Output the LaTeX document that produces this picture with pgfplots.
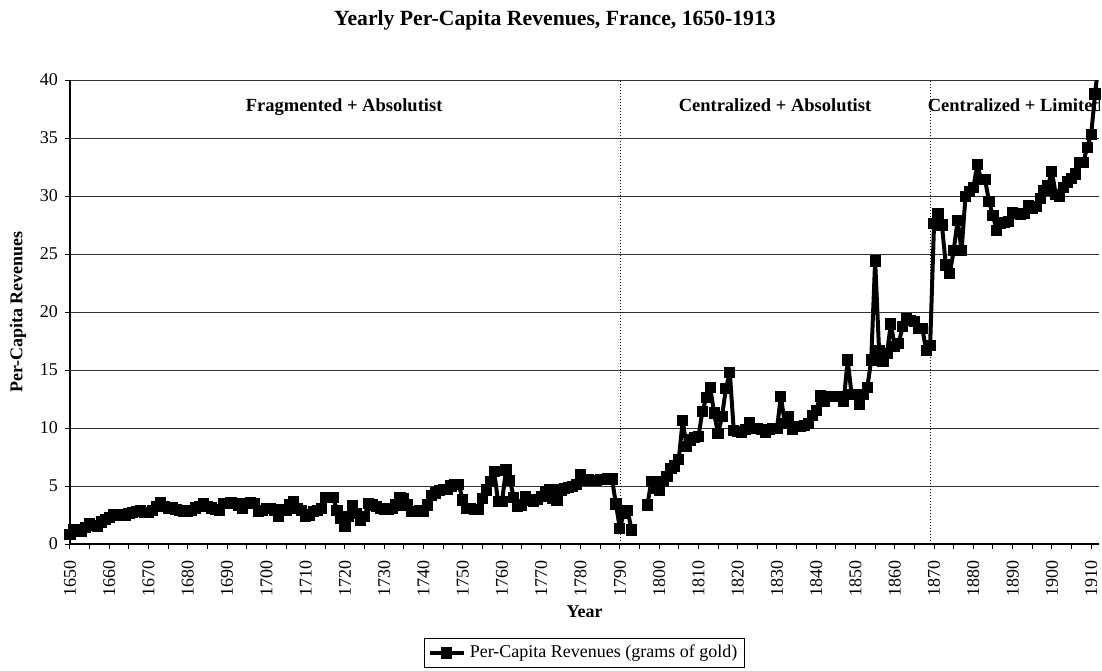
\documentclass[border=0pt]{standalone}
\usepackage{fontspec}
\setmainfont{Liberation Serif}
\usepackage{pgfplots}
\pgfplotsset{compat=1.18}
\usepackage{pgfplotstable}

\pgfplotstableread{
year val
1650 0.8
1651 1.2
1652 1.2
1653 1.1
1654 1.4
1655 1.8
1656 1.6
1657 1.5
1658 1.9
1659 2.1
1660 2.3
1661 2.5
1662 2.5
1663 2.5
1664 2.5
1665 2.6
1666 2.7
1667 2.8
1668 2.9
1669 2.7
1670 2.7
1671 2.9
1672 3.2
1673 3.6
1674 3.2
1675 3.1
1676 3.1
1677 3.0
1678 2.9
1679 2.8
1680 2.8
1681 2.9
1682 3.1
1683 3.2
1684 3.5
1685 3.2
1686 3.1
1687 3.0
1688 2.9
1689 3.5
1690 3.5
1691 3.6
1692 3.5
1693 3.35
1694 3.1
1695 3.5
1696 3.6
1697 3.5
1698 2.8
1699 2.9
1700 3.07
1701 3.07
1702 2.9
1703 2.4
1704 3.0
1705 2.9
1706 3.4
1707 3.65
1708 3.07
1709 2.9
1710 2.35
1711 2.5
1712 2.8
1713 2.87
1714 3.07
1715 4.0
1716 4.0
1717 4.0
1718 2.9
1719 2.2
1720 1.55
1721 2.35
1722 3.27
1723 2.6
1724 2.07
1725 2.35
1726 3.5
1727 3.36
1728 3.2
1729 3.07
1730 3.0
1731 3.0
1732 3.07
1733 3.36
1734 4.0
1735 3.94
1736 3.36
1737 2.8
1738 2.8
1739 2.87
1740 2.8
1741 3.36
1742 4.2
1743 4.4
1744 4.6
1745 4.7
1746 4.7
1747 5.0
1748 5.15
1749 5.1
1750 3.8
1751 3.07
1752 3.07
1753 3.0
1754 3.0
1755 3.94
1756 4.66
1757 5.4
1758 6.23
1759 3.65
1760 3.65
1761 6.38
1762 5.5
1763 4.02
1764 3.27
1765 3.36
1766 4.1
1767 3.8
1768 3.65
1769 3.85
1770 4.1
1771 4.5
1772 4.66
1773 3.94
1774 3.8
1775 4.66
1776 4.8
1777 4.9
1778 4.95
1779 5.1
1780 5.95
1781 5.5
1782 5.57
1783 5.5
1784 5.5
1785 5.57
1786 5.57
1787 5.6
1788 5.6
1789 3.45
1790 1.35
1791 2.64
1792 2.87
1793 1.2
1794 nan
1795 nan
1796 nan
1797 3.36
1798 5.37
1799 4.8
1800 4.66
1801 5.37
1802 5.8
1803 6.52
1804 6.72
1805 7.3
1806 10.63
1807 8.4
1808 8.97
1809 9.2
1810 9.25
1811 11.4
1812 12.6
1813 13.5
1814 11.3
1815 9.5
1816 10.97
1817 13.4
1818 14.8
1819 9.77
1820 9.68
1821 9.6
1822 9.9
1823 10.5
1824 9.97
1825 9.97
1826 9.9
1827 9.6
1828 9.9
1829 9.97
1830 9.97
1831 12.7
1832 10.4
1833 11.0
1834 9.9
1835 10.1
1836 10.1
1837 10.2
1838 10.4
1839 11.1
1840 11.5
1841 12.76
1842 12.3
1843 12.7
1844 12.7
1845 12.7
1846 12.7
1847 12.3
1848 15.86
1849 12.9
1850 12.9
1851 12.07
1852 12.9
1853 13.5
1854 15.86
1855 24.4
1856 16.7
1857 15.7
1858 16.4
1859 18.97
1860 17.0
1861 17.3
1862 18.74
1863 19.45
1864 19.3
1865 19.2
1866 18.6
1867 18.6
1868 16.7
1869 17.1
1870 27.6
1871 28.5
1872 27.5
1873 24.05
1874 23.3
1875 25.3
1876 27.9
1877 25.3
1878 29.94
1879 30.4
1880 30.7
1881 32.7
1882 31.4
1883 31.4
1884 29.5
1885 28.3
1886 27.0
1887 27.6
1888 27.7
1889 27.8
1890 28.6
1891 28.5
1892 28.4
1893 28.5
1894 29.2
1895 28.9
1896 29.1
1897 29.8
1898 30.5
1899 30.9
1900 32.1
1901 30.1
1902 30.0
1903 30.7
1904 31.2
1905 31.5
1906 31.9
1907 32.9
1908 32.9
1909 34.2
1910 35.3
1911 38.8
1912 42
}\revdata

\begin{document}
\begin{tikzpicture}
\path[use as bounding box] (-35pt,-63pt) rectangle (516pt,272pt);
\begin{axis}[
  scale only axis,
  width=514.5pt, height=232pt,
  xmin=1650, xmax=1912, ymin=0, ymax=40,
  axis lines=left,
  axis line style={-, black, line width=0.6pt},
  xtick={1650,1660,...,1910},
  minor xtick={1655,1665,...,1905},
  ytick={0,5,...,40},
  tick align=outside,
  major tick length=2.5pt, minor tick length=2.5pt,
  tick style={black, line width=0.5pt},
  ymajorgrids,
  grid style={black!80, line width=0.5pt},
  /pgf/number format/assume math mode=true,
  /pgf/number format/1000 sep={},
  xticklabel style={rotate=90, anchor=east, font=\fontsize{9}{10}\selectfont, xshift=-2pt},
  yticklabel style={font=\fontsize{9}{10}\selectfont},
  xlabel={Year},
  ylabel={Per-Capita Revenues},
  xlabel style={font=\bfseries\fontsize{9}{10}\selectfont, at={(axis description cs:0.5,-0.1466)}, anchor=center},
  ylabel style={font=\bfseries\fontsize{9}{10}\selectfont, at={(axis description cs:-0.0505,0.5)}, anchor=center},
  unbounded coords=jump,
  legend style={at={(axis description cs:0.5,-0.235)}, anchor=center, draw=black, line width=0.5pt,
    font=\fontsize{9}{10}\selectfont, inner sep=1.5pt},
  legend cell align=left,
]
\node[anchor=base, font=\bfseries\fontsize{9.25}{11}\selectfont] at (axis cs:1719.8,37.27) {Fragmented + Absolutist};
\node[anchor=base, font=\bfseries\fontsize{9.25}{11}\selectfont] at (axis cs:1829.5,37.27) {Centralized + Absolutist};
\node[anchor=base west, inner xsep=0pt, font=\bfseries\fontsize{9.25}{11}\selectfont] at (axis cs:1868.3,37.27) {Centralized + Limited};
\draw[black, line width=0.5pt, dash pattern=on 0.5pt off 1pt] (axis cs:1790.2,0) -- (axis cs:1790.2,40);
\draw[black, line width=0.5pt, dash pattern=on 0.5pt off 1pt] (axis cs:1869.2,0) -- (axis cs:1869.2,40);
\addplot[black, line width=2pt, line join=round, mark=square*, mark size=1.8pt, mark options={line join=miter}] table[x=year, y=val] {\revdata};
\addlegendentry{Per-Capita Revenues (grams of gold)}
\end{axis}
\node[font=\bfseries\fontsize{10.85}{12}\selectfont] at (242.5pt,262pt) {Yearly Per-Capita Revenues, France, 1650-1913};
\end{tikzpicture}
\end{document}
